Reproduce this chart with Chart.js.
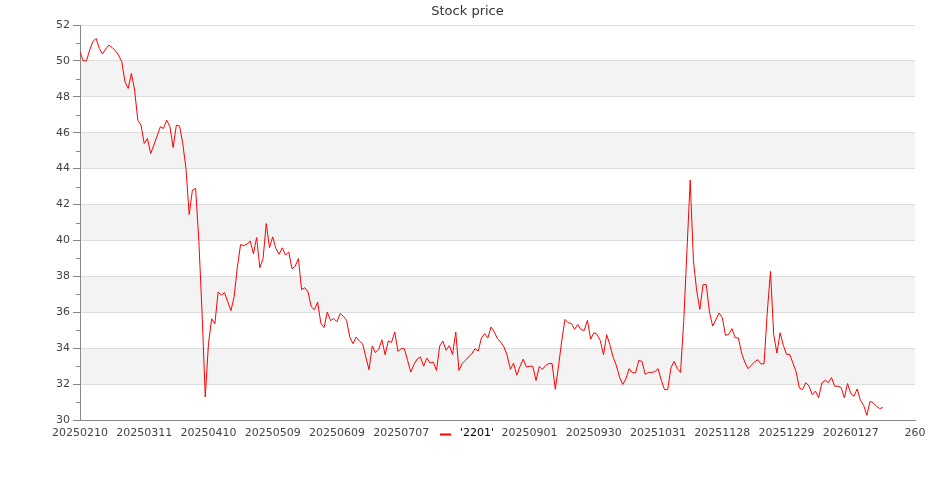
<!DOCTYPE html>
<html>
<head>
<meta charset="utf-8">
<script src="https://cdn.jsdelivr.net/npm/chart.js@4"></script>
<style>
    html, body { margin: 0; padding: 0; background: #fff; }
    #wrap { width: 935px; height: 500px; }
</style>
</head>
<body>
<div id="wrap"><canvas id="chart" width="935" height="500"></canvas></div>
<script>
const chartTitle = 'Stock price';
const seriesName = "'2201'";

// closing price per trading day (index 0 = 20250210)
const prices = [
    50.51, 50.00, 50.00, 50.60, 51.07, 51.26, 50.70, 50.38, 50.66, 50.88,
    50.75, 50.57, 50.33, 49.96, 48.84, 48.47, 49.30, 48.38, 46.70, 46.42,
    45.40, 45.68, 44.84, 45.31, 45.81, 46.33, 46.24, 46.70, 46.33, 45.18,
    46.42, 46.37, 45.40, 44.00, 41.44, 42.80, 42.90, 40.00, 36.00, 31.28,
    34.25, 35.64, 35.36, 37.13, 36.96, 37.09, 36.59, 36.09, 36.87, 38.52,
    39.77, 39.71, 39.79, 39.97, 39.26, 40.16, 38.48, 38.99, 40.94, 39.60,
    40.20, 39.55, 39.23, 39.59, 39.18, 39.36, 38.43, 38.56, 38.99, 37.26,
    37.37, 37.13, 36.31, 36.14, 36.57, 35.38, 35.15, 36.01, 35.54, 35.65,
    35.47, 35.93, 35.78, 35.55, 34.62, 34.25, 34.62, 34.40, 34.25, 33.50,
    32.80, 34.12, 33.75, 33.93, 34.47, 33.64, 34.40, 34.32, 34.90, 33.82,
    33.97, 33.97, 33.32, 32.67, 33.10, 33.40, 33.51, 33.00, 33.45, 33.17,
    33.23, 32.76, 34.12, 34.40, 33.88, 34.14, 33.65, 34.90, 32.76, 33.14,
    33.32, 33.51, 33.70, 33.97, 33.84, 34.58, 34.81, 34.57, 35.18, 34.90,
    34.53, 34.34, 34.07, 33.60, 32.82, 33.17, 32.50, 32.98, 33.39, 32.95,
    33.00, 32.98, 32.20, 32.98, 32.82, 33.04, 33.14, 33.14, 31.71, 33.00,
    34.40, 35.60, 35.42, 35.37, 35.05, 35.32, 35.03, 34.99, 35.55, 34.50,
    34.86, 34.77, 34.42, 33.64, 34.75, 34.19, 33.50, 33.04, 32.39, 31.98,
    32.30, 32.86, 32.63, 32.63, 33.32, 33.26, 32.54, 32.65, 32.65, 32.69,
    32.86, 32.21, 31.69, 31.69, 32.91, 33.26, 32.86, 32.65, 35.55, 39.46,
    43.36, 38.90, 37.22, 36.16, 37.54, 37.54, 36.01, 35.23, 35.59, 35.96,
    35.70, 34.71, 34.77, 35.09, 34.58, 34.57, 33.73, 33.23, 32.86, 33.04,
    33.23, 33.36, 33.13, 33.13, 36.00, 38.28, 34.76, 33.73, 34.86, 34.16,
    33.66, 33.64, 33.17, 32.67, 31.78, 31.69, 32.08, 31.89, 31.41, 31.61,
    31.24, 32.06, 32.21, 32.08, 32.36, 31.88, 31.88, 31.81, 31.24, 32.03,
    31.47, 31.32, 31.73, 31.10, 30.82, 30.26, 31.04, 30.96, 30.76, 30.64,
    30.69
];

// x tick positions (day index) and their dates
const tickIndex = [0, 20, 40, 60, 80, 100, 120, 140, 160, 180, 200, 220, 240];
const tickDates = ['20250210', '20250311', '20250410', '20250509', '20250609', '20250707',
    '20250804', '20250901', '20250930', '20251031', '20251128', '20251229', '20260127'];

const xMax = 260;
const yMin = 30, yMax = 52;

const FONT = 'DejaVu Sans';

// grey bands behind every other 2-unit interval
const bandsPlugin = {
    id: 'bands',
    beforeDraw(chart) {
        const { ctx, chartArea, scales } = chart;
        const y = scales.y;
        ctx.save();
        ctx.fillStyle = '#f3f3f3';
        for (let v = yMin; v < yMax; v += 2) {
            if (v % 4 !== 0) continue;
            const top = y.getPixelForValue(v + 2);
            const bot = y.getPixelForValue(v);
            ctx.fillRect(chartArea.left, top, chartArea.right - chartArea.left, bot - top);
        }
        ctx.restore();
    }
};

// small ticks at odd values + title + legend drawn over the axis labels
const extrasPlugin = {
    id: 'extras',
    afterDraw(chart) {
        const { ctx, chartArea, scales } = chart;
        const y = scales.y;
        ctx.save();
        ctx.strokeStyle = '#888';
        ctx.lineWidth = 1;
        for (let v = yMin + 1; v < yMax; v += 2) {
            const py = Math.round(y.getPixelForValue(v)) + 0.5;
            ctx.beginPath();
            ctx.moveTo(chartArea.left - 4, py);
            ctx.lineTo(chartArea.left, py);
            ctx.stroke();
        }

        // title
        ctx.fillStyle = '#333';
        ctx.font = '13px "' + FONT + '"';
        ctx.textAlign = 'center';
        ctx.textBaseline = 'middle';
        ctx.fillText(chartTitle, chart.width / 2, 12);

        // legend (covers the middle x label)
        ctx.fillStyle = '#fff';
        ctx.fillRect(434, 424, 64, 20);
        ctx.strokeStyle = 'red';
        ctx.lineWidth = 2;
        ctx.beginPath();
        ctx.moveTo(440, 434.5);
        ctx.lineTo(451, 434.5);
        ctx.stroke();
        ctx.fillStyle = '#000';
        ctx.font = '11px "' + FONT + '"';
        ctx.textAlign = 'left';
        ctx.fillText(seriesName, 460, 433);
        ctx.restore();
    }
};

new Chart(document.getElementById('chart'), {
    type: 'line',
    data: {
        datasets: [{
            label: seriesName,
            data: prices.map((p, i) => ({ x: i, y: p })),
            borderColor: 'red',
            borderWidth: 1,
            pointRadius: 0,
            tension: 0,
            fill: false
        }]
    },
    options: {
        responsive: false,
        devicePixelRatio: 1,
        animation: false,
        layout: { padding: { top: 25, right: 20, left: 0, bottom: 0 } },
        plugins: {
            legend: { display: false },
            title: { display: false },
            tooltip: { enabled: false }
        },
        scales: {
            x: {
                type: 'linear',
                min: 0,
                max: xMax,
                afterBuildTicks: (scale) => {
                    const t = [];
                    for (let v = 0; v <= xMax; v += 20) t.push({ value: v });
                    scale.ticks = t;
                },
                afterFit: (scale) => { scale.height = 80; },
                grid: { display: false, drawTicks: false },
                border: { display: true, color: '#888' },
                ticks: {
                    autoSkip: false,
                    maxRotation: 0,
                    padding: 7,
                    color: '#444',
                    font: { family: FONT, size: 11 },
                    callback: (value) => {
                        const k = tickIndex.indexOf(value);
                        return k >= 0 ? tickDates[k] : String(value);
                    }
                }
            },
            y: {
                min: yMin,
                max: yMax,
                afterFit: (scale) => { scale.width = 80; },
                grid: {
                    color: '#dddddd',
                    tickColor: '#888',
                    tickLength: 7,
                    lineWidth: 1
                },
                border: { display: true, color: '#888' },
                ticks: {
                    stepSize: 2,
                    padding: 3,
                    color: '#444',
                    font: { family: FONT, size: 11 }
                }
            }
        }
    },
    plugins: [bandsPlugin, extrasPlugin]
});
</script>
</body>
</html>
